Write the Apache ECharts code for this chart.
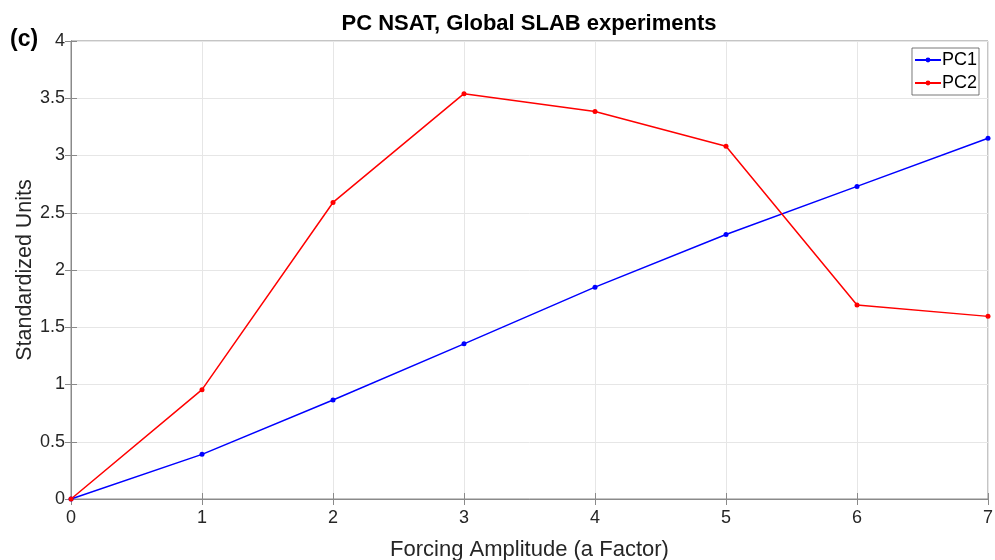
<!DOCTYPE html>
<html><head><meta charset="utf-8">
<script src="https://cdn.jsdelivr.net/npm/echarts@6/dist/echarts.min.js"></script>
<style>html,body{margin:0;padding:0;background:#fff}#c{width:995px;height:560px}</style>
</head><body><div id="c"></div>
<script>
const xValues = [0, 1, 2, 3, 4, 5, 6, 7];
const pc1 = [0, 0.39, 0.865, 1.355, 1.85, 2.31, 2.73, 3.15];
const pc2 = [0, 0.955, 2.59, 3.54, 3.385, 3.08, 1.695, 1.595];
const titleText = 'PC NSAT, Global SLAB experiments';
const panelLabel = '(c)';
const xName = 'Forcing Amplitude (a Factor)';
const yName = 'Standardized Units';

const chart = echarts.init(document.getElementById('c'));
const font = 'Liberation Sans, Arial, Helvetica, sans-serif';
const axisCol = '#8a8a8a';
const hiddenAxis = {
  axisLine: {show: true, lineStyle: {color: axisCol}},
  axisTick: {show: true, inside: true, length: 6, lineStyle: {color: axisCol}},
  axisLabel: {show: false},
  splitLine: {show: false}
};
chart.setOption({
  animation: false,
  backgroundColor: '#fff',
  textStyle: {fontFamily: font},
  title: [
    {text: titleText, left: 524, top: 8, textAlign: 'center',
     textStyle: {fontSize: 22, fontWeight: 'bold', color: '#000', fontFamily: font}},
    {text: panelLabel, left: 5, top: 23,
     textStyle: {fontSize: 23, fontWeight: 'bold', color: '#000', fontFamily: font}}
  ],
  grid: {left: 71, right: 7, top: 41, bottom: 61, show: true, borderColor: axisCol, borderWidth: 1,
         containLabel: false, outerBoundsMode: 'none'},
  legend: {
    orient: 'vertical', right: 16, top: 48, itemWidth: 26, itemHeight: 6, itemGap: 5,
    borderColor: '#555', borderWidth: 0.8, padding: [3, 2, 3, 2], backgroundColor: '#fff',
    textStyle: {fontSize: 18, color: '#000', fontFamily: font, padding: [0, 0, 0, -4]},
    data: ['PC1', 'PC2']
  },
  xAxis: [{
    type: 'value', min: 0, max: 7, interval: 1,
    name: xName, nameLocation: 'middle', nameGap: 40, nameMoveOverlap: false,
    nameTextStyle: {fontSize: 22, color: '#262626', fontFamily: font},
    axisLine: {show: true, lineStyle: {color: axisCol}},
    axisTick: {show: true, inside: true, length: 6, lineStyle: {color: axisCol}},
    axisLabel: {fontSize: 18, color: '#262626', margin: 10, fontFamily: font},
    splitLine: {show: true, lineStyle: {color: '#e6e6e6'}}
  }, Object.assign({type: 'value', min: 0, max: 7, interval: 1, position: 'top'}, hiddenAxis)],
  yAxis: [{
    type: 'value', min: 0, max: 4, interval: 0.5,
    name: yName, nameLocation: 'middle', nameGap: 35, nameMoveOverlap: false,
    nameTextStyle: {fontSize: 21.5, color: '#262626', fontFamily: font},
    axisLine: {show: true, lineStyle: {color: axisCol}},
    axisTick: {show: true, inside: true, length: 6, lineStyle: {color: axisCol}},
    axisLabel: {fontSize: 18, color: '#262626', margin: 6, fontFamily: font},
    splitLine: {show: true, lineStyle: {color: '#e6e6e6'}}
  }, Object.assign({type: 'value', min: 0, max: 4, interval: 0.5, position: 'right'}, hiddenAxis)],
  series: [
    {name: 'PC1', type: 'line', data: xValues.map((x, i) => [x, pc1[i]]),
     symbol: 'circle', symbolSize: 5, color: '#0000ff', lineStyle: {width: 1.5, color: '#0000ff'}},
    {name: 'PC2', type: 'line', data: xValues.map((x, i) => [x, pc2[i]]),
     symbol: 'circle', symbolSize: 5, color: '#ff0000', lineStyle: {width: 1.5, color: '#ff0000'}}
  ]
});
</script></body></html>
